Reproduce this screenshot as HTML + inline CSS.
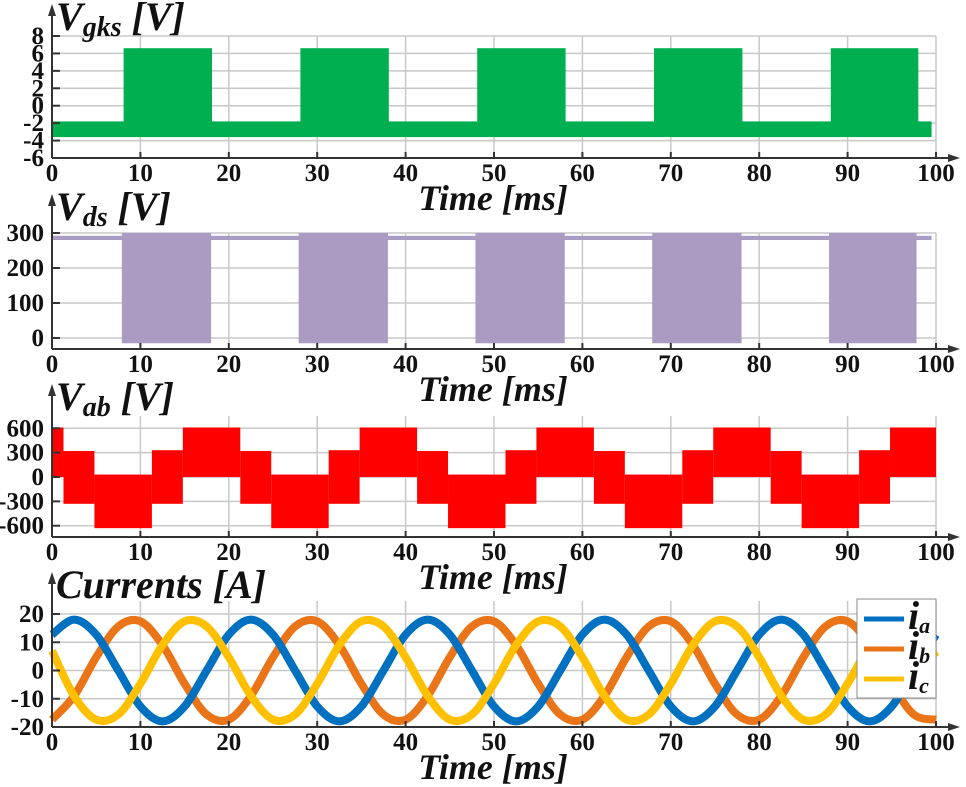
<!DOCTYPE html>
<html><head><meta charset="utf-8"><style>
html,body{margin:0;padding:0;background:#fff;}
svg{display:block;font-family:"Liberation Serif",serif;}
.tk{font-weight:bold;font-size:25px;fill:#111;}
.tt{font-weight:bold;font-style:italic;font-size:40px;fill:#111;}
.xt{font-weight:bold;font-style:italic;font-size:36px;fill:#111;}
</style></head><body>
<svg id="chart" width="966" height="787" viewBox="0 0 966 787" xmlns="http://www.w3.org/2000/svg"></svg>
<script>
// ---- data ----
const xTicks = [0,10,20,30,40,50,60,70,80,90,100];
const vgksTicks = [-6,-4,-2,0,2,4,6,8];
const vdsTicks = [0,100,200,300];
const vabTicks = [-600,-300,0,300,600];
const curTicks = [-20,-10,0,10,20];
const gateOnStart = [8.1,28.1,48.1,68.1,88.1];
const gateOnEnd = [18.1,38.1,58.1,78.1,98.0];
const vgksOffBand = [-3.6,-1.8];
const vgksOnBand = [-3.0,6.6];
const vdsOnStart = [7.9,27.9,47.9,67.9,87.9];
const vdsOnEnd = [18.0,38.0,58.0,78.0,97.8];
const vdsOffBand = [280,292];
const vdsOnBand = [-15,300];
const vabTimes = [0,1.3,4.8,11.3,14.8,21.3,24.8,31.3,34.8,41.3,44.8,51.3,54.8,61.3,64.8,71.3,74.8,81.3,84.8,91.3,94.8,100];
const vabLow  = [0,-330,-630,-330,0,-330,-630,-330,0,-330,-630,-330,0,-330,-630,-330,0,-330,-630,-330,0];
const vabHigh = [610,320,30,330,610,320,30,330,610,320,30,330,610,320,30,330,610,320,30,330,610];
const curTimes = [0,2.5,5,7.5,10,12.5,15,17.5,20,22.5,25,27.5,30,32.5,35,37.5,40,42.5,45,47.5,50,52.5,55,57.5,60,62.5,65,67.5,70,72.5,75,77.5,80,82.5,85,87.5,90,92.5,95,97.5,100];
const ia = [12.7,18,12.7,0,-12.7,-18,-12.7,0,12.7,18,12.7,0,-12.7,-18,-12.7,0,12.7,18,12.7,0,-12.7,-18,-12.7,0,12.7,18,12.7,0,-12.7,-18,-12.7,0,12.7,18,12.7,0,-12.7,-18,-12.7,0,12.7];
const ib = [-17.4,-9,4.7,15.6,17.4,9,-4.7,-15.6,-17.4,-9,4.7,15.6,17.4,9,-4.7,-15.6,-17.4,-9,4.7,15.6,17.4,9,-4.7,-15.6,-17.4,-9,4.7,15.6,17.4,9,-4.7,-15.6,-17.4,-9,4.7,15.6,17.4,9,-4.7,-15.6,-17.4];
const ic = [7,-9,-17.4,-15.6,-4.7,9,17.4,15.6,4.7,-9,-17.4,-15.6,-4.7,9,17.4,15.6,4.7,-9,-17.4,-15.6,-4.7,9,17.4,15.6,4.7,-9,-17.4,-15.6,-4.7,9,17.4,15.6,4.7,-9,-17.4,-15.6,-4.7,9,17.4,15.6,4.7];

const NS='http://www.w3.org/2000/svg';
const svg=document.getElementById('chart');
function mk(tag,attrs,parent){const e=document.createElementNS(NS,tag);for(const k in attrs)e.setAttribute(k,attrs[k]);(parent||svg).appendChild(e);return e;}
const X=t=>52+t*8.84;
function panel(name,ticks,Y,axisY,topY){
  const g=mk('g',{});
  
  
  xTicks.forEach(t=>{if(t>0){const l=mk('line',{x1:X(t),x2:X(t),y1:topY,y2:axisY,stroke:'#c8c8c8','stroke-width':1.5},g);}});
  ticks.forEach(v=>{const y=Y(v);if(Math.abs(y-axisY)>1){const l=mk('line',{x1:52,x2:X(100),y1:y,y2:y,stroke:'#c8c8c8','stroke-width':1.5},g);}
    const tx=mk('text',{x:44,y:y+8,'text-anchor':'end',class:'tk'},g);tx.textContent=v;});
  return g;
}
function axes(g,ticks,Y,axisY,title,sub,unit,titleY){
  mk('line',{x1:52,x2:52,y1:axisY,y2:titleY-18,stroke:'#333','stroke-width':2},g);
  mk('polygon',{points:`48,${titleY-14} 56,${titleY-14} 52,${titleY-26}`,fill:'#333'},g);
  mk('line',{x1:52,x2:950,y1:axisY,y2:axisY,stroke:'#333','stroke-width':2},g);
  mk('polygon',{points:`948,${axisY-4} 948,${axisY+4} 960,${axisY}`,fill:'#333'},g);
  ticks.forEach(v=>mk('line',{x1:52,x2:60,y1:Y(v),y2:Y(v),stroke:'#333','stroke-width':2},g));
  xTicks.forEach(t=>{mk('line',{x1:X(t),x2:X(t),y1:axisY,y2:axisY-6,stroke:'#333','stroke-width':2},g);
    const tx=mk('text',{x:X(t),y:axisY+23,'text-anchor':'middle',class:'tk'},g);tx.textContent=t;});
  const tt=mk('text',{x:56,y:titleY,class:'tt'},g);
  if(sub){tt.innerHTML=`${title}<tspan font-size="28" dy="6">${sub}</tspan><tspan dy="-6"> ${unit}</tspan>`;}else tt.textContent=title+' '+unit;
  const xt=mk('text',{x:493,y:axisY+52,'text-anchor':'middle',class:'xt'},g);xt.textContent='Time [ms]';
}
function rect(g,t0,t1,v0,v1,Y,fill,name){const y0=Y(v1),y1=Y(v0);const r=mk('rect',{x:X(t0),y:y0,width:X(t1)-X(t0),height:y1-y0,fill:fill},g);}

// Panel 1 Vgks
const Y1=v=>158-(v+6)*8.714;
let g=panel('vgks',vgksTicks,Y1,158,36);
rect(g,0,99.5,vgksOffBand[0],vgksOffBand[1],Y1,'#00b050','vgks-off-band');
gateOnStart.forEach((s,i)=>rect(g,s,gateOnEnd[i],vgksOnBand[0],vgksOnBand[1],Y1,'#00b050','vgks-pulse'));
axes(g,vgksTicks,Y1,158,'V','gks','[V]',30);

// Panel 2 Vds
const Y2=v=>338-v*0.35;
g=panel('vds',vdsTicks,Y2,349,233);
rect(g,0,99.5,vdsOffBand[0],vdsOffBand[1],Y2,'#a99bc2','vds-off-band');
vdsOnStart.forEach((s,i)=>rect(g,s,vdsOnEnd[i],vdsOnBand[0],vdsOnBand[1],Y2,'#a99bc2','vds-pulse'));
axes(g,vdsTicks,Y2,349,'V','ds','[V]',220);

// Panel 3 Vab
const Y3=v=>477-v*0.0812;
g=panel('vab',vabTicks,Y3,537,416);
vabLow.forEach((lo,i)=>rect(g,vabTimes[i],vabTimes[i+1],lo,vabHigh[i],Y3,'#ff0000','vab-segment'));
axes(g,vabTicks,Y3,537,'V','ab','[V]',410);

// Panel 4 currents
const Y4=v=>670.5-v*2.825;
g=panel('currents',curTicks,Y4,727,601);
function curve(vals,color,name){
  const p=curTimes.map((t,i)=>[X(t),Y4(vals[i])]);
  let d=`M${p[0][0]},${p[0][1]}`;
  for(let i=0;i<p.length-1;i++){const a=p[Math.max(0,i-1)],b=p[i],c=p[i+1],e=p[Math.min(p.length-1,i+2)];
    d+=` C${b[0]+(c[0]-a[0])/6},${b[1]+(c[1]-a[1])/6} ${c[0]-(e[0]-b[0])/6},${c[1]-(e[1]-b[1])/6} ${c[0]},${c[1]}`;}
  const pa=mk('path',{d:d,fill:'none',stroke:color,'stroke-width':8,'stroke-linejoin':'round'},g);
  
}
curve(ib,'#e97518','series-ib');curve(ia,'#0070c0','series-ia');curve(ic,'#ffc000','series-ic');
axes(g,curTicks,Y4,727,'Currents','', '[A]',598);
// legend
const lg=mk('g',{});
mk('rect',{x:857,y:599,width:79,height:99,fill:'#fff',stroke:'#888','stroke-width':1},lg);
[['a','#0070c0',627],['b','#e97518',657],['c','#ffc000',687]].forEach(([s,c,y])=>{
  const e=mk('g',{},lg);
  mk('line',{x1:864,x2:904,y1:y-8,y2:y-8,stroke:c,'stroke-width':5},e);
  const t=mk('text',{x:908,y:y+2,class:'tt','font-size':'32'},e);t.innerHTML=`i<tspan font-size="22" dy="4">${s}</tspan>`;
});
</script>
</body></html>
